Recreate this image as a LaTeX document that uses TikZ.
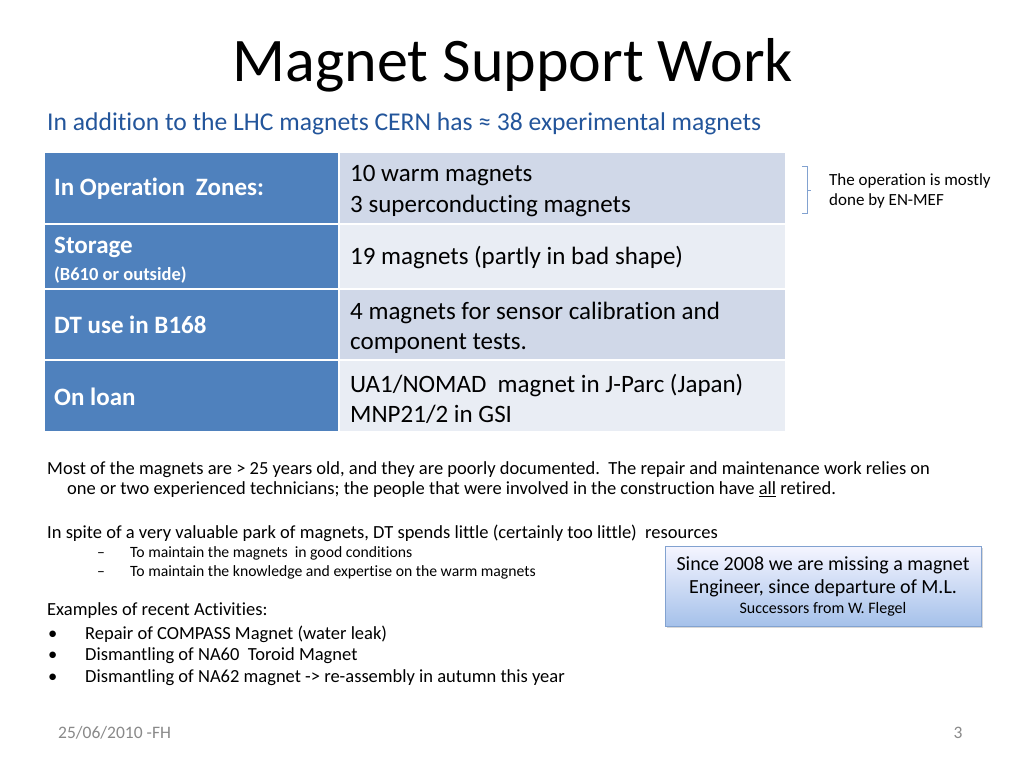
\documentclass[tikz,border=0pt]{standalone}
\usepackage{fontspec}
\setmainfont{Carlito}[Ligatures={NoCommon}]
\usetikzlibrary{shadows}

\definecolor{hdblue}{RGB}{79,129,189}
\definecolor{rowdark}{RGB}{208,216,232}
\definecolor{rowlight}{RGB}{233,237,244}
\definecolor{subblue}{RGB}{35,85,155}
\definecolor{boxedge}{RGB}{130,162,208}
\definecolor{foot}{RGB}{137,137,137}

\tikzset{
  hcell/.style={text=white, inner sep=0pt, align=left, anchor=west, font=\fontsize{25}{30}\selectfont\bfseries},
  bcell/.style={inner sep=0pt, align=left, anchor=west, font=\fontsize{25}{30.5}\selectfont},
  line/.style={inner sep=0pt, anchor=west, align=left},
  body/.style={line, font=\fontsize{18.5}{20}\selectfont},
  small/.style={line, font=\fontsize{15.7}{19}\selectfont}
}

\begin{document}
\begin{tikzpicture}[x=1pt, y=-1pt]
  \useasboundingbox (0,0) rectangle (1024,768);
  \fill[white] (0,0) rectangle (1024,768);

  % title
  \node[inner sep=0pt] (title) at (513,65) {\fontsize{62}{70}\selectfont Magnet Support Work};
  \node[line, text=subblue, font=\fontsize{25.6}{30}\selectfont] (sub) at (47,124) {In addition to the LHC magnets CERN has ≈ 38 experimental magnets};

  % table
  \foreach \t/\b/\c in {153/223/rowdark, 225/288/rowlight, 290/359/rowdark, 361/431/rowlight}{
    \fill[hdblue] (45,\t) rectangle (338,\b);
    \fill[\c] (340,\t) rectangle (785,\b);
  }
  \node[hcell] (l1) at (54,189) {In Operation\hspace{11pt}Zones:};
  \node[hcell] (l2) at (54,260) {Storage\\[-3pt]{\fontsize{18.5}{20}\selectfont (B610 or outside)}};
  \node[hcell] (l3) at (54,325) {DT use in B168};
  \node[hcell] (l4) at (54,397) {On loan};
  \node[bcell] (r1) at (350,191) {10 warm magnets\\3 superconducting magnets};
  \node[bcell] (r2) at (350,257.5) {19 magnets (partly in bad shape)};
  \node[bcell] (r3) at (350,328) {4 magnets for sensor calibration and\\component tests.};
  \node[bcell] (r4) at (350,399) {UA1/NOMAD\ \ magnet in J-Parc (Japan)\\MNP21/2 in GSI};

  % note with bracket
  \coordinate (bt) at (802,166);
  \coordinate (bb) at (802,213);
  \draw[boxedge, thin] (bt) -- ++(5,0) -- ++(0,47) -- (bb);
  \draw[boxedge, thin] (807,190) -- ++(4,0);
  \node[line, font=\fontsize{17}{20}\selectfont] (note) at (829,191) {The operation is mostly\\done by EN-MEF};

  % text below
  \node[body] (p1) at (47,480) {Most of the magnets are > 25 years old, and they are poorly documented.\ \ The repair and maintenance work relies on\\\hspace*{20pt}one or two experienced technicians; the people that were involved in the construction have \underline{all} retired.};
  \node[body] (p2) at (47,533) {In spite of a very valuable park of magnets, DT spends little (certainly too little)\ \ resources};
  \foreach \y/\t [count=\i] in {553/To maintain the magnets\ \ in good conditions, 572/To maintain the knowledge and expertise on the warm magnets}{
    \node[small] (s\i) at (130,\y) {\t};
    \node[small, anchor=base west] (d\i) at ([xshift=-33pt]s\i.base west) {–};
  }
  \node[body] (p3) at (47,611) {Examples of recent Activities:};
  \foreach \y/\t [count=\i] in {634/Repair of COMPASS Magnet (water leak), 656/Dismantling of NA60\ \ Toroid Magnet, 678/Dismantling of NA62 magnet -> re-assembly in autumn this year}{
    \node[body] (e\i) at (85,\y) {\t};
    \node[body, anchor=base west] (b\i) at ([xshift=-37pt]e\i.base west) {•};
  }

  % call-out box
  \node[draw=boxedge, top color=blue!4!white, bottom color={rgb,255:red,165;green,193;blue,234}, drop shadow={opacity=0.3, shadow xshift=2pt, shadow yshift=-2pt}, minimum width=316pt, minimum height=80pt, align=center, inner sep=0pt, font=\fontsize{20}{23}\selectfont] (gap) at (823,586)
    {Since 2008 we are missing a magnet\\Engineer, since departure of M.L.\\[-3pt]{\fontsize{16}{19}\selectfont Successors from W. Flegel}};

  % footer
  \node[line, text=foot, font=\fontsize{17.5}{20}\selectfont] (date) at (58,733) {25/06/2010 -FH};
  \node[inner sep=0pt, text=foot, font=\fontsize{17.5}{20}\selectfont] (page) at (958,733) {3};
\end{tikzpicture}
\end{document}
